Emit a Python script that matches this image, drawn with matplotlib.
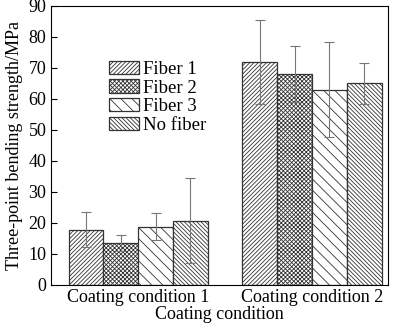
import numpy as np
import matplotlib
matplotlib.use('Agg')
import matplotlib.pyplot as plt

plt.rcParams['font.family'] = ['Liberation Serif', 'DejaVu Serif']
plt.rcParams['hatch.linewidth'] = 0.6

# data
conditions = ['Coating condition 1', 'Coating condition 2']
series = ['Fiber 1', 'Fiber 2', 'Fiber 3', 'No fiber']
means = {
    'Fiber 1': [17.8, 72.0],
    'Fiber 2': [13.6, 68.0],
    'Fiber 3': [18.8, 63.0],
    'No fiber': [20.7, 65.0],
}
errors = {
    'Fiber 1': [5.7, 13.5],
    'Fiber 2': [2.5, 9.0],
    'Fiber 3': [4.3, 15.3],
    'No fiber': [13.7, 6.5],
}
hatches = ['////////', 'xxxxxxxx', '\\\\\\', '\\\\\\\\\\\\\\\\']

fig = plt.figure(figsize=(4.0, 3.29), dpi=100)
ax = fig.add_axes([0.128, 0.134, 0.842, 0.848])

x = np.arange(len(conditions))
w = 0.2
for i, s in enumerate(series):
    ax.bar(x + (i - 1.5) * w, means[s], w, color='white', edgecolor='#333333',
           linewidth=0.9, hatch=hatches[i], label=s,
           yerr=errors[s], error_kw=dict(ecolor='#777777', elinewidth=0.8,
                                         capsize=3.5, capthick=0.8))

ax.set_xlim(-0.5, 1.437)
ax.set_ylim(0, 90)
ax.set_yticks(range(0, 91, 10))
ax.set_xticks(x)
ax.set_xticklabels(conditions, fontsize=13)
ax.tick_params(axis='x', length=0, pad=3)
ax.tick_params(axis='y', direction='in', length=4, labelsize=13)
ax.set_xlabel('Coating condition', fontsize=13, labelpad=0)
ax.set_ylabel('Three-point bending strength/MPa', fontsize=13, labelpad=4)

leg = ax.legend(loc='upper left', bbox_to_anchor=(0.15, 0.83), frameon=False,
                fontsize=13.5, handlelength=1.6, handleheight=0.7,
                handletextpad=0.2, labelspacing=0.08, borderaxespad=0)

fig.savefig('out.png', dpi=100)
